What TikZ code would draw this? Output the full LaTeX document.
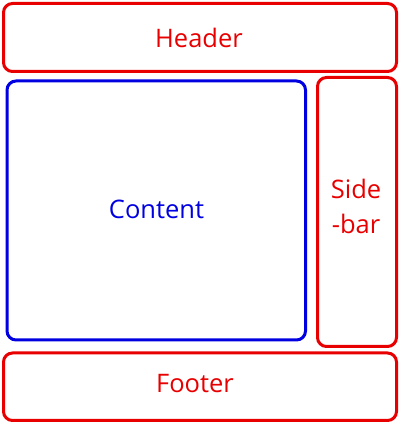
\documentclass[tikz,border=0pt]{standalone}
\usepackage{fontspec}
\setmainfont{Open Sans}
\definecolor{boxred}{RGB}{232,0,0}
\definecolor{boxblue}{RGB}{0,0,225}
\begin{document}
\begin{tikzpicture}[x=1pt,y=1pt,
  frame/.style={line width=3pt,rounded corners=9pt},
  lbl/.style={font=\fontsize{25.5}{30}\selectfont,anchor=base,inner sep=0pt}]
\useasboundingbox (0,0) rectangle (400,424);
% Header
\draw[frame,boxred] (3.5,420.5) rectangle (396.5,352.5);
% Content
\draw[frame,boxblue] (7,343) rectangle (305.5,84);
% Sidebar
\draw[frame,boxred] (317.5,346.5) rectangle (396.5,77.5);
% Footer
\draw[frame,boxred] (3.5,71) rectangle (396.5,3.5);
\node[lbl,text=boxred] (header) at (199,376) {Header};
\node[lbl,text=boxblue] (content) at (156.5,205) {Content};
\node[lbl,text=boxred] (side) at (356,225) {Side};
\node[lbl,text=boxred] (bar) at (356,190) {-bar};
\node[lbl,text=boxred] (footer) at (195,31) {Footer};
\end{tikzpicture}
\end{document}
